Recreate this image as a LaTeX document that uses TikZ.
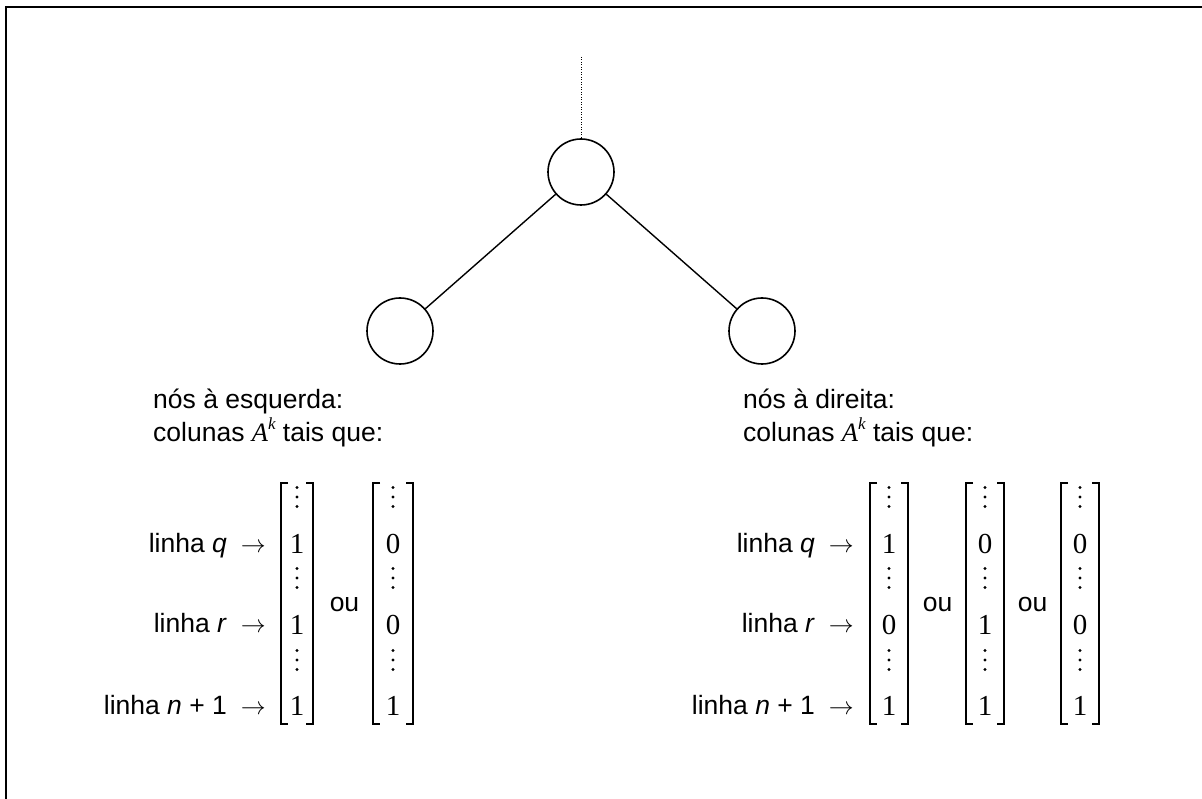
\documentclass[tikz,border=0pt]{standalone}
\usepackage{fontspec}
\setmainfont{Liberation Sans}
\newfontfamily\tnr{Liberation Serif}
\newcommand\mydots[2]{\foreach \dd in {-9.5,0,9.5} {\fill (#1,#2+\dd) circle (1.6pt);}}
\newcommand\mybrk[2]{%
  \draw[brk] (#1+7,483) -- (#1,483) -- (#1,724) -- (#1+7,724);
  \draw[brk] (#2-7,483) -- (#2,483) -- (#2,724) -- (#2-7,724);}
\begin{document}
\begin{tikzpicture}[x=1pt,y=-1pt,
  nd/.style={circle, draw, line width=1.6pt, minimum size=66pt, inner sep=0pt},
  edge/.style={line width=1.4pt},
  brk/.style={line width=1.5pt},
  lbl/.style={anchor=base west, inner sep=0pt, font=\fontsize{26.5}{32}\selectfont},
  rowlbl/.style={anchor=base east, inner sep=0pt, font=\fontsize{26.5}{32}\selectfont},
  ou/.style={anchor=base, inner sep=0pt, font=\fontsize{26.5}{32}\selectfont},
  num/.style={anchor=base, inner sep=0pt, font=\tnr\fontsize{29}{32}\selectfont}]
\useasboundingbox (0,0) rectangle (1202,799);
% frame
\draw[line width=2pt] (6,799) -- (6,7) -- (1202,7);
% tree
\node[nd] (top) at (581,172) {};
\node[nd] (left) at (400,331) {};
\node[nd] (right) at (762,331) {};
\coordinate (up) at (581,57);
\draw[line width=1pt, dash pattern=on 1pt off 1.5pt] (up) -- (top.north);
\draw[edge] (top) -- (left);
\draw[edge] (top) -- (right);
% labels
\newcommand\Ak{{\tnr\itshape A}\raisebox{0.42em}{\tnr\itshape\fontsize{17}{17}\selectfont k}}
\node[lbl] (l1) at (153,408) {nós à esquerda:};
\node[lbl] (l2) at (153,441) {colunas \Ak\ tais que:};
\node[lbl] (r1) at (743,408) {nós à direita:};
\node[lbl] (r2) at (743,441) {colunas \Ak\ tais que:};
% row labels
\node[rowlbl] (lq) at (266,552) {linha \textit{q}\hspace{14pt}$\rightarrow$};
\node[rowlbl] (lr) at (266,632) {linha \textit{r}\hspace{14pt}$\rightarrow$};
\node[rowlbl] (ln) at (266,714) {linha \textit{n} + 1\hspace{14pt}$\rightarrow$};
\node[rowlbl] (rq) at (854,552) {linha \textit{q}\hspace{14pt}$\rightarrow$};
\node[rowlbl] (rr) at (854,632) {linha \textit{r}\hspace{14pt}$\rightarrow$};
\node[rowlbl] (rn) at (854,714) {linha \textit{n} + 1\hspace{14pt}$\rightarrow$};
% brackets
\mybrk{281}{313}
\mybrk{373}{413}
\mybrk{870}{908}
\mybrk{966}{1004}
\mybrk{1061}{1099}
% dots
\foreach \cx in {297,393,889,985,1080} {
  \mydots{\cx}{497}
  \mydots{\cx}{578}
  \mydots{\cx}{660}
}
% entries
\node[num] (a1) at (297,553) {1};
\node[num] (a2) at (297,634) {1};
\node[num] (a3) at (297,715) {1};
\node[num] (b1) at (393,553) {0};
\node[num] (b2) at (393,634) {0};
\node[num] (b3) at (393,715) {1};
\node[num] (c1) at (889,553) {1};
\node[num] (c2) at (889,634) {0};
\node[num] (c3) at (889,715) {1};
\node[num] (d1) at (985,553) {0};
\node[num] (d2) at (985,634) {1};
\node[num] (d3) at (985,715) {1};
\node[num] (e1) at (1080,553) {0};
\node[num] (e2) at (1080,634) {0};
\node[num] (e3) at (1080,715) {1};
% ou
\node[ou] (ou1) at (344.5,611) {ou};
\node[ou] (ou2) at (937.5,611) {ou};
\node[ou] (ou3) at (1032.5,611) {ou};
\end{tikzpicture}
\end{document}
